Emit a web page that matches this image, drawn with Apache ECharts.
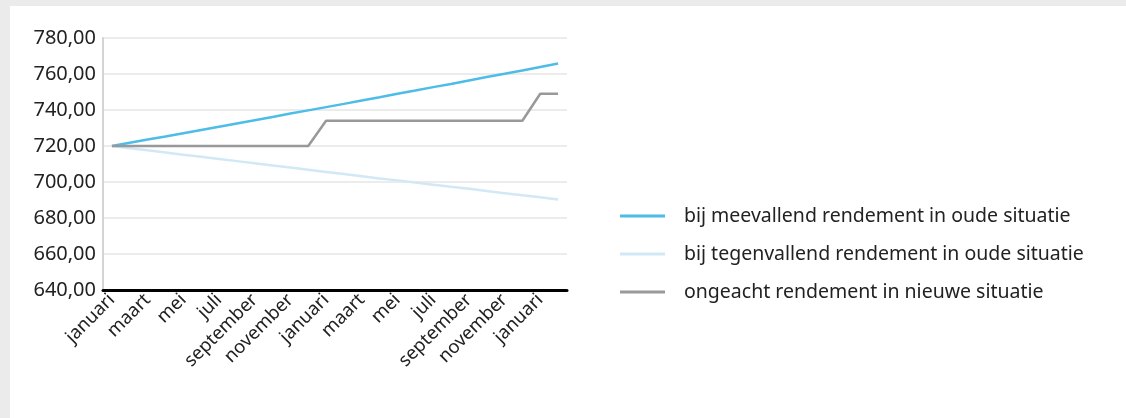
<!DOCTYPE html>
<html>
<head>
<meta charset="utf-8">
<script src="https://cdn.jsdelivr.net/npm/echarts@6/dist/echarts.min.js"></script>
<style>
html,body{margin:0;padding:0;background:#ebebeb;width:1126px;height:418px;overflow:hidden;}
#c{position:absolute;left:10px;top:6px;width:1116px;height:412px;background:#fff;}
</style>
</head>
<body>
<div id="c"></div>
<script>
var categories = ['januari','februari','maart','april','mei','juni','juli','augustus','september','oktober','november','december',
  'januari','februari','maart','april','mei','juni','juli','augustus','september','oktober','november','december',
  'januari','februari'];
var seriesNames = ['bij meevallend rendement in oude situatie','bij tegenvallend rendement in oude situatie','ongeacht rendement in nieuwe situatie'];
var meevallend = [720.0,721.8,723.6,725.3,727.1,728.9,730.7,732.5,734.3,736.1,738.0,739.8,741.6,743.4,745.3,747.1,749.0,750.8,752.7,754.5,756.4,758.3,760.1,762.0,763.9,765.8];
var tegenvallend = [720.0,718.8,717.6,716.4,715.2,714.0,712.8,711.6,710.4,709.2,708.0,706.8,705.6,704.4,703.2,702.0,700.9,699.7,698.5,697.3,696.2,695.0,693.8,692.6,691.5,690.3];
var nieuw = [720,720,720,720,720,720,720,720,720,720,720,720,734,734,734,734,734,734,734,734,734,734,734,734,749,749];

var FONT = 'Noto Sans';
var chart = echarts.init(document.getElementById('c'));
chart.setOption({
  animation:false,
  grid:{left:93,top:32,width:464,height:252,containLabel:false},
  xAxis:{type:'category',data:categories,boundaryGap:true,
    axisLine:{show:true,lineStyle:{color:'#000',width:3}},
    axisTick:{show:false},
    axisLabel:{interval:1,rotate:45,fontFamily:FONT,fontSize:18.5,color:'#222',margin:7},
    splitLine:{show:false}},
  yAxis:{type:'value',min:640,max:780,interval:20,
    axisLine:{show:true,lineStyle:{color:'#d4d4d4',width:2}},
    axisTick:{show:false},
    axisLabel:{fontFamily:FONT,fontSize:20,color:'#222',margin:7,formatter:function(v){return v.toFixed(2).replace('.',',');}},
    splitLine:{show:true,lineStyle:{color:'#ececec',width:2}}},
  legend:{orient:'vertical',left:605,top:195,itemWidth:45,itemHeight:3,itemGap:18,icon:'rect',
    textStyle:{fontFamily:FONT,fontSize:19.5,color:'#222',padding:[0,0,0,14]},
    data:seriesNames},
  series:[
    {name:seriesNames[0],type:'line',data:meevallend,symbol:'none',lineStyle:{color:'#4dbde8',width:2.5},itemStyle:{color:'#4dbde8'}},
    {name:seriesNames[1],type:'line',data:tegenvallend,symbol:'none',lineStyle:{color:'#d3e8f5',width:2.5},itemStyle:{color:'#d3e8f5'}},
    {name:seriesNames[2],type:'line',data:nieuw,symbol:'none',lineStyle:{color:'#999999',width:2.5},itemStyle:{color:'#999999'}}
  ]
});
</script>
</body>
</html>
